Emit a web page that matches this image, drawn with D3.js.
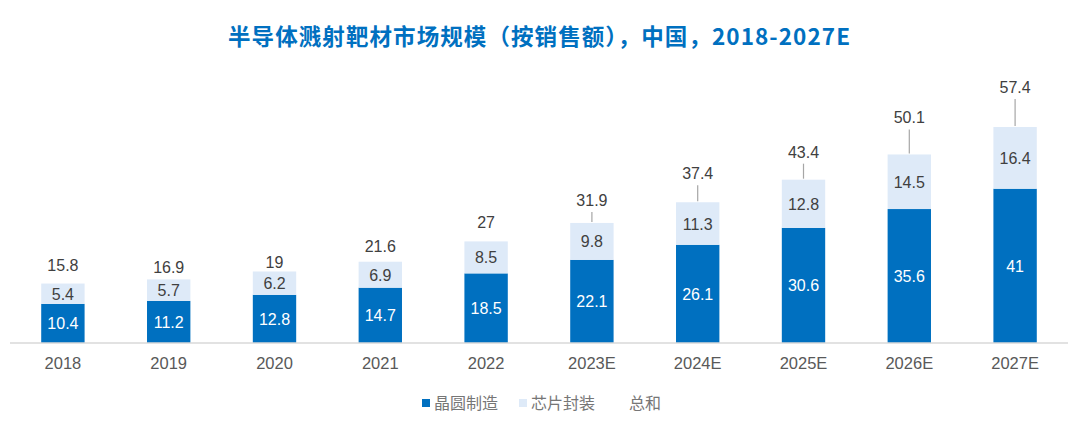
<!DOCTYPE html>
<html>
<head>
<meta charset="utf-8">
<script src="https://cdn.jsdelivr.net/npm/d3@7"></script>
<style>
  body { margin: 0; background: #fff; }
  svg { display: block; }
</style>
</head>
<body>
<div id="chart"></div>
<script>
// chart data
const categories = ["2018", "2019", "2020", "2021", "2022", "2023E", "2024E", "2025E", "2026E", "2027E"];
const wafer = [10.4, 11.2, 12.8, 14.7, 18.5, 22.1, 26.1, 30.6, 35.6, 41];
const packaging = [5.4, 5.7, 6.2, 6.9, 8.5, 9.8, 11.3, 12.8, 14.5, 16.4];
const totals = [15.8, 16.9, 19, 21.6, 27, 31.9, 37.4, 43.4, 50.1, 57.4];
const seriesNames = ["晶圆制造", "芯片封装", "总和"];

// how far the total labels were dragged above each bar (px)
const labelLift = [19, 12, 10, 16, 19, 23, 29, 28, 37, 40];

const svgWidth = 1080, svgHeight = 435;
const baseY = 343;
const colors = { wafer: "#0070C0", pack: "#DEEAF8" };

const svg = d3.select("#chart")
  .append("svg")
  .attr("width", svgWidth)
  .attr("height", svgHeight);

// title
svg.append("text")
  .attr("x", 228)
  .attr("y", 45)
  .attr("textLength", 622)
  .attr("lengthAdjust", "spacing")
  .attr("font-family", "'Noto Sans CJK SC', sans-serif")
  .attr("font-weight", "bold")
  .attr("font-size", 22.5)
  .attr("fill", "#0070C0")
  .text("半导体溅射靶材市场规模（按销售额），中国，2018-2027E");

// scales
const x = d3.scaleBand()
  .domain(categories)
  .range([10, 1068])
  .paddingInner(0.59)
  .paddingOuter(0.295);

const y = d3.scaleLinear()
  .domain([0, 57.4])
  .range([baseY, 127]);

const rows = categories.map((c, i) => ({
  cat: c, wafer: wafer[i], pack: packaging[i], total: totals[i], lift: labelLift[i]
}));

// stacked bars
const stack = d3.stack().keys(["wafer", "pack"])(rows);

svg.append("g")
  .selectAll("g")
  .data(stack)
  .join("g")
  .attr("fill", d => colors[d.key])
  .selectAll("rect")
  .data(d => d)
  .join("rect")
  .attr("x", d => x(d.data.cat))
  .attr("y", d => y(d[1]))
  .attr("width", x.bandwidth())
  .attr("height", d => y(d[0]) - y(d[1]));

// segment labels
const fontLatin = "'Liberation Sans', Arial, sans-serif";
stack.forEach(layer => {
  svg.append("g")
    .selectAll("text")
    .data(layer)
    .join("text")
    .attr("x", d => x(d.data.cat) + x.bandwidth() / 2)
    .attr("y", d => (y(d[0]) + y(d[1])) / 2 + 6)
    .attr("text-anchor", "middle")
    .attr("font-family", fontLatin)
    .attr("font-size", 16)
    .attr("fill", layer.key === "wafer" ? "#fff" : "#404040")
    .text(d => d.data[layer.key]);
});

// x axis
const xAxis = svg.append("g")
  .attr("transform", `translate(0, ${baseY})`)
  .call(d3.axisBottom(x).tickSize(0).tickPadding(14));
xAxis.select(".domain").attr("stroke", "#D9D9D9").attr("stroke-width", 1.5)
  .attr("d", "M10,0H1068");
xAxis.selectAll("text")
  .attr("font-family", fontLatin)
  .attr("font-size", 16.5)
  .attr("fill", "#595959");

// total labels with leader lines
const totalG = svg.append("g");
totalG.selectAll("line")
  .data(rows.filter(d => d.lift > 20))
  .join("line")
  .attr("x1", d => x(d.cat) + x.bandwidth() / 2)
  .attr("x2", d => x(d.cat) + x.bandwidth() / 2)
  .attr("y1", d => y(d.total) - d.lift + 12)
  .attr("y2", d => y(d.total) - 1)
  .attr("stroke", "#A6A6A6")
  .attr("stroke-width", 1.2);

totalG.selectAll("text")
  .data(rows)
  .join("text")
  .attr("x", d => x(d.cat) + x.bandwidth() / 2)
  .attr("y", d => y(d.total) - d.lift + 6)
  .attr("text-anchor", "middle")
  .attr("font-family", fontLatin)
  .attr("font-size", 16)
  .attr("fill", "#404040")
  .text(d => d.total);

// legend
const legend = svg.append("g")
  .attr("font-family", "'Noto Sans CJK SC', sans-serif")
  .attr("font-size", 16)
  .attr("fill", "#767676");
const legendX = [422, 519, 617];
const legendFill = [colors.wafer, colors.pack, "none"];
seriesNames.forEach((name, i) => {
  if (legendFill[i] !== "none") {
    legend.append("rect")
      .attr("x", legendX[i])
      .attr("y", 399)
      .attr("width", 8)
      .attr("height", 8)
      .attr("fill", legendFill[i]);
  }
  legend.append("text")
    .attr("x", legendX[i] + 12)
    .attr("y", 408.5)
    .text(name);
});
</script>
</body>
</html>
